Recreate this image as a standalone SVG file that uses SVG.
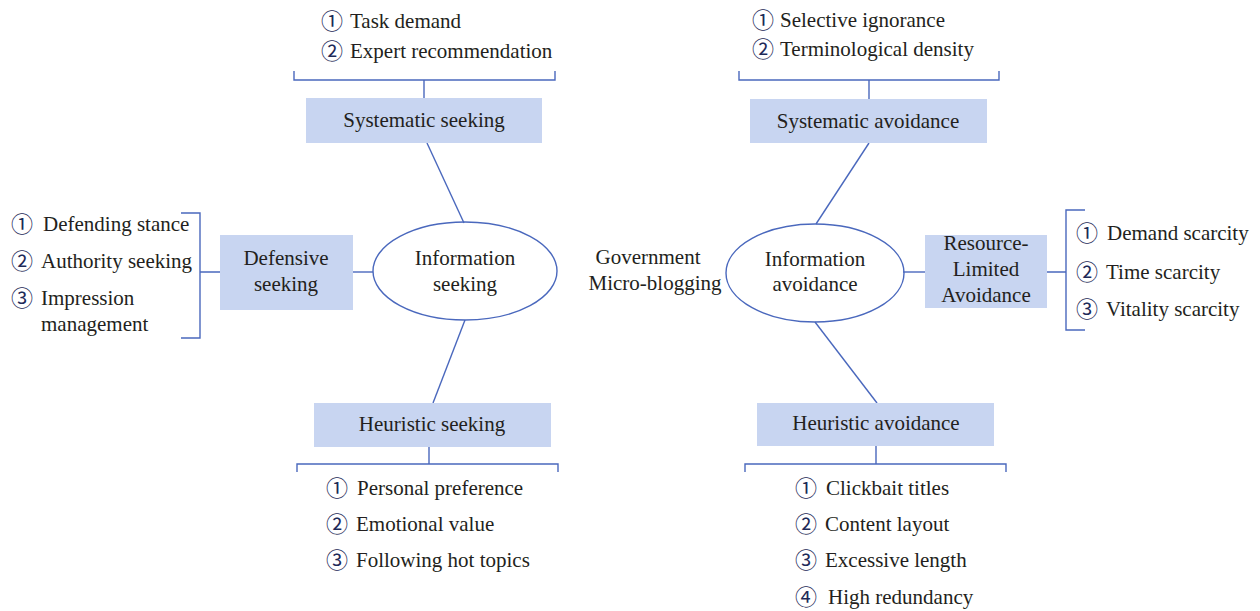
<svg xmlns="http://www.w3.org/2000/svg" width="1260" height="611" viewBox="0 0 1260 611">
<style>
text{font-family:"Liberation Serif","Times New Roman",serif;font-size:21px;fill:#231f20}
.c{text-anchor:middle}
.n{font-family:"Noto Sans CJK JP","DejaVu Sans",sans-serif;font-size:22px;fill:#1e2a58}
.box{fill:#c8d5f1}
.ln{stroke:#4a68bd;stroke-width:1.4;fill:none}
</style>
<rect width="1260" height="611" fill="#ffffff"/>
<g id="connectors">
<path class="ln" d="M294,71V80H555V71M424,80V98"/>
<path class="ln" d="M427,143L464,223"/>
<path class="ln" d="M181,213H200V338H181M200,272H220"/>
<path class="ln" d="M353,272H373"/>
<path class="ln" d="M465,320L433,403"/>
<path class="ln" d="M297,472V464H558V472M429,447V464"/>
<path class="ln" d="M739,71V80H999V71M869,80V99"/>
<path class="ln" d="M869,143L816,224"/>
<path class="ln" d="M903,272H925"/>
<path class="ln" d="M1047,272H1066M1085,210H1066V330H1085"/>
<path class="ln" d="M815,322L877,403"/>
<path class="ln" d="M745,472V464H1006V472M876,446V464"/>
</g>
<g id="systematic-seeking-items">
<text x="332" y="29" class="n c">①</text><text x="350" y="28">Task demand</text>
<text x="332" y="59" class="n c">②</text><text x="350" y="58">Expert recommendation</text>
</g>
<g id="systematic-seeking">
<rect class="box" x="306" y="98" width="236" height="45"/>
<text x="424" y="127" class="c">Systematic seeking</text>
</g>
<g id="information-seeking">
<ellipse class="ln" cx="465" cy="271" rx="92" ry="49"/>
<text x="465" y="265" class="c">Information</text>
<text x="465" y="291" class="c">seeking</text>
</g>
<g id="defensive-seeking">
<rect class="box" x="220" y="235" width="133" height="75"/>
<text x="286" y="265" class="c">Defensive</text>
<text x="286" y="291" class="c">seeking</text>
</g>
<g id="defensive-seeking-items">
<text x="22" y="232" class="n c">①</text><text x="43" y="231">Defending stance</text>
<text x="22" y="269" class="n c">②</text><text x="41" y="268">Authority seeking</text>
<text x="22" y="306" class="n c">③</text><text x="41" y="305">Impression</text>
<text x="41" y="331">management</text>
</g>
<g id="heuristic-seeking">
<rect class="box" x="314" y="403" width="237" height="44"/>
<text x="432" y="431" class="c">Heuristic seeking</text>
</g>
<g id="heuristic-seeking-items">
<text x="337" y="496" class="n c">①</text><text x="357" y="495">Personal preference</text>
<text x="337" y="532" class="n c">②</text><text x="356" y="531">Emotional value</text>
<text x="337" y="568" class="n c">③</text><text x="356" y="567">Following hot topics</text>
</g>
<g id="government">
<text x="648" y="264" class="c">Government</text>
<text x="655" y="290" class="c">Micro-blogging</text>
</g>
<g id="systematic-avoidance-items">
<text x="763" y="28" class="n c">①</text><text x="780" y="27">Selective ignorance</text>
<text x="763" y="57" class="n c">②</text><text x="780" y="56">Terminological density</text>
</g>
<g id="systematic-avoidance">
<rect class="box" x="750" y="99" width="237" height="44"/>
<text x="868" y="128" class="c">Systematic avoidance</text>
</g>
<g id="information-avoidance">
<ellipse class="ln" cx="815" cy="273" rx="89" ry="49"/>
<text x="815" y="266" class="c">Information</text>
<text x="815" y="291" class="c">avoidance</text>
</g>
<g id="resource-limited-avoidance">
<rect class="box" x="925" y="235" width="122" height="73"/>
<text x="986" y="250" class="c">Resource-</text>
<text x="986" y="276" class="c">Limited</text>
<text x="986" y="302" class="c">Avoidance</text>
</g>
<g id="resource-limited-items">
<text x="1087" y="241" class="n c">①</text><text x="1107" y="240">Demand scarcity</text>
<text x="1087" y="280" class="n c">②</text><text x="1106" y="279">Time scarcity</text>
<text x="1087" y="317" class="n c">③</text><text x="1106" y="316">Vitality scarcity</text>
</g>
<g id="heuristic-avoidance">
<rect class="box" x="757" y="403" width="237" height="43"/>
<text x="876" y="430" class="c">Heuristic avoidance</text>
</g>
<g id="heuristic-avoidance-items">
<text x="806" y="496" class="n c">①</text><text x="826" y="495">Clickbait titles</text>
<text x="806" y="532" class="n c">②</text><text x="825" y="531">Content layout</text>
<text x="806" y="568" class="n c">③</text><text x="825" y="567">Excessive length</text>
<text x="806" y="605" class="n c">④</text><text x="828" y="604">High redundancy</text>
</g>
</svg>
